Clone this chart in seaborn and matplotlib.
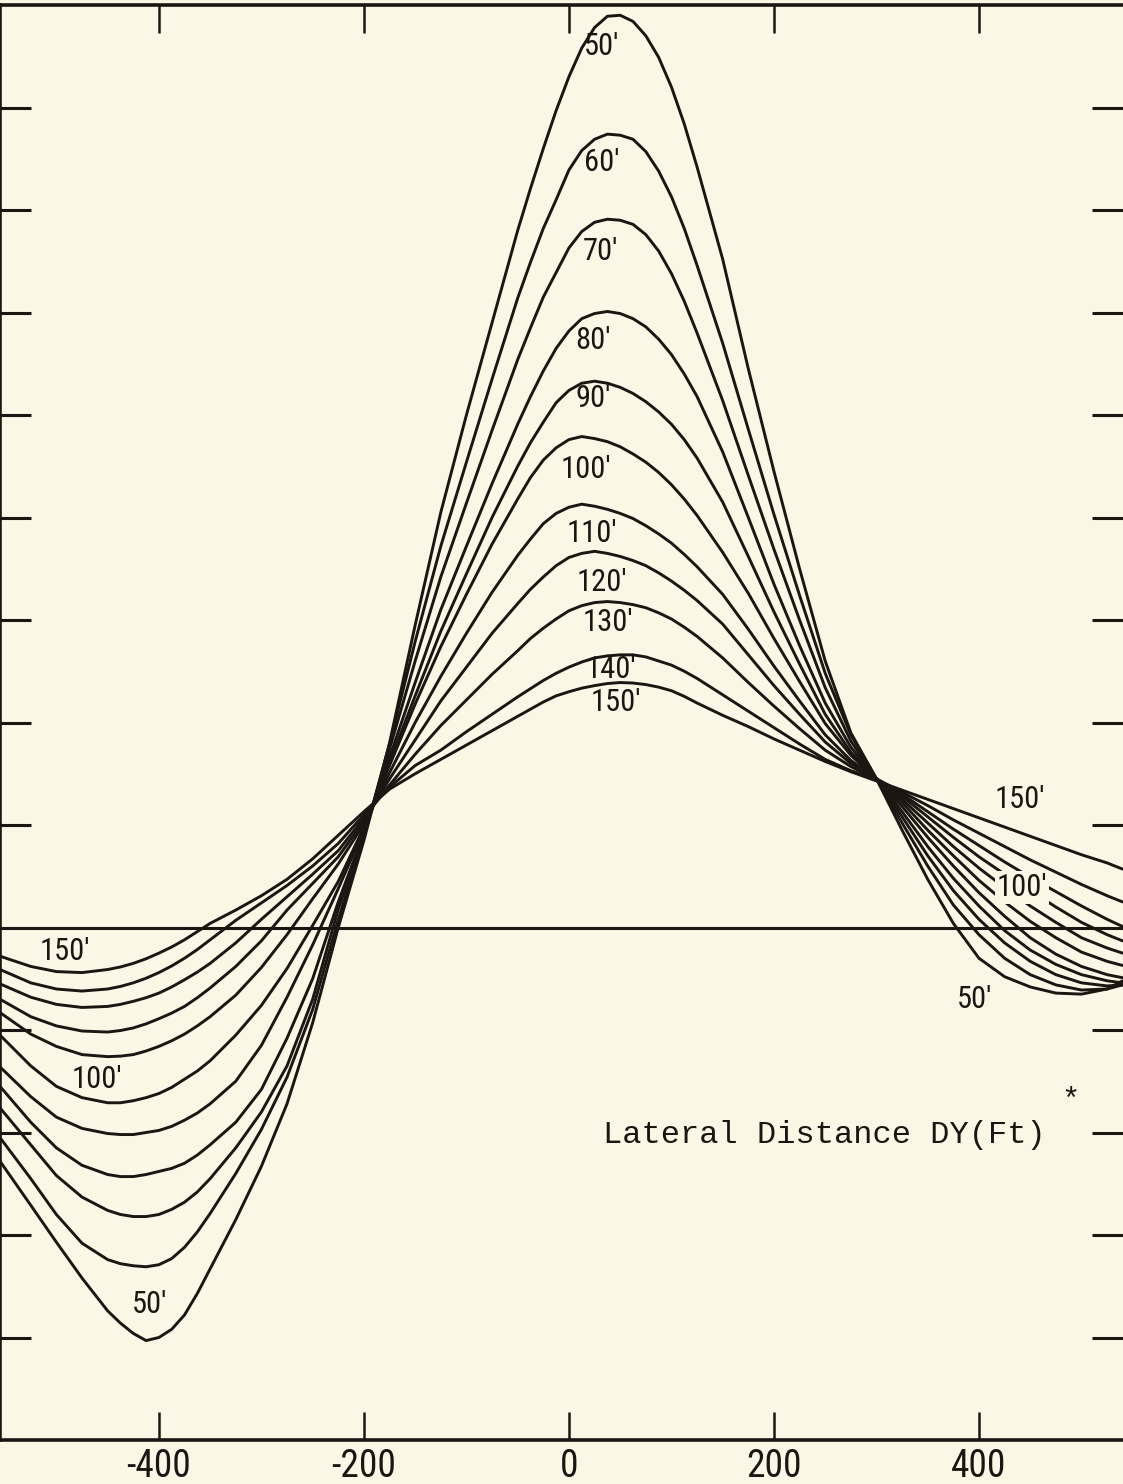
import numpy as np
import pandas as pd
import matplotlib
matplotlib.use("Agg")
import matplotlib.pyplot as plt
import seaborn as sns

# ---------------- data ----------------
dy = [-555, -525, -500, -475, -450,
      -437.5, -425, -412.5, -400, -387.5, -375, -362.5, -350,
      -325, -300, -275, -250, -225, -200, -175, -150, -125, -100, -75, -50,
      -37.5, -25, -12.5, 0, 12.5, 25, 37.5, 50, 62.5, 75, 87.5, 100, 112.5, 125,
      150, 175, 200, 225, 250, 275, 300,
      325, 350, 375, 400, 425, 450, 475, 500, 525, 540]

heights = ["50'", "60'", "70'", "80'", "90'", "100'", "110'", "120'", "130'", "140'", "150'"]

y50 = [-2.28, -2.71, -3.07, -3.42, -3.74,
       -3.86, -3.96, -4.03, -4.0, -3.92, -3.78, -3.57, -3.33,
       -2.85, -2.33, -1.72, -0.93, 0.0, 0.85, 1.8, 2.95, 4.05, 5.0, 5.9, 6.8,
       7.21, 7.6, 7.97, 8.3, 8.58, 8.78, 8.89, 8.9, 8.84, 8.7, 8.49, 8.2, 7.84, 7.42,
       6.52, 5.45, 4.45, 3.5, 2.6, 1.9, 1.45,
       0.95, 0.47, 0.04, -0.3, -0.48, -0.58, -0.64, -0.65, -0.6, -0.52]
y60 = [-2.05, -2.45, -2.8, -3.08, -3.24,
       -3.28, -3.3, -3.31, -3.29, -3.23, -3.12, -2.97, -2.79,
       -2.4, -1.97, -1.46, -0.8, 0.08, 0.88, 1.79, 2.79, 3.72, 4.54, 5.35, 6.14,
       6.49, 6.82, 7.1, 7.39, 7.58, 7.69, 7.74, 7.73, 7.69, 7.57, 7.38, 7.13, 6.82, 6.46,
       5.7, 4.86, 4.03, 3.24, 2.48, 1.88, 1.45,
       1.02, 0.6, 0.22, -0.07, -0.3, -0.46, -0.56, -0.61, -0.6, -0.56]
y70 = [-1.76, -2.12, -2.42, -2.63, -2.76,
       -2.8, -2.82, -2.82, -2.8, -2.75, -2.68, -2.58, -2.45,
       -2.15, -1.8, -1.35, -0.7, 0.18, 0.9, 1.74, 2.6, 3.42, 4.14, 4.85, 5.54,
       5.85, 6.15, 6.39, 6.63, 6.79, 6.88, 6.91, 6.9, 6.86, 6.76, 6.6, 6.38, 6.11, 5.8,
       5.14, 4.41, 3.69, 3.0, 2.34, 1.82, 1.45,
       1.08, 0.7, 0.36, 0.08, -0.15, -0.33, -0.46, -0.54, -0.57, -0.56]
y80 = [-1.55, -1.9, -2.15, -2.32, -2.41,
       -2.43, -2.43, -2.41, -2.38, -2.35, -2.3, -2.22, -2.12,
       -1.9, -1.58, -1.08, -0.5, 0.25, 0.92, 1.66, 2.39, 3.1, 3.72, 4.33, 4.91,
       5.18, 5.43, 5.65, 5.82, 5.94, 5.99, 6.01, 5.99, 5.94, 5.86, 5.74, 5.59, 5.4, 5.18,
       4.64, 4.0, 3.35, 2.75, 2.19, 1.76, 1.45,
       1.13, 0.79, 0.48, 0.21, -0.03, -0.22, -0.36, -0.46, -0.52, -0.54]
y90 = [-1.36, -1.65, -1.85, -1.96, -2.01,
       -2.02, -2.02, -2.0, -1.98, -1.94, -1.88, -1.81, -1.72,
       -1.5, -1.15, -0.68, -0.17, 0.38, 0.95, 1.61, 2.26, 2.89, 3.45, 4.0, 4.5,
       4.73, 4.93, 5.12, 5.24, 5.31, 5.33, 5.31, 5.27, 5.21, 5.13, 5.03, 4.91, 4.76, 4.58,
       4.15, 3.62, 3.08, 2.57, 2.08, 1.71, 1.45,
       1.18, 0.88, 0.6, 0.34, 0.11, -0.1, -0.26, -0.38, -0.46, -0.49]
y100 = [-1.05, -1.35, -1.55, -1.66, -1.71,
        -1.71, -1.69, -1.66, -1.62, -1.56, -1.48, -1.4, -1.3,
        -1.05, -0.76, -0.4, 0.02, 0.45, 0.98, 1.58, 2.18, 2.74, 3.25, 3.74, 4.18,
        4.39, 4.56, 4.68, 4.76, 4.79, 4.77, 4.74, 4.69, 4.62, 4.54, 4.44, 4.32, 4.18, 4.02,
        3.66, 3.26, 2.82, 2.4, 1.99, 1.68, 1.45,
        1.22, 0.95, 0.7, 0.46, 0.25, 0.06, -0.1, -0.24, -0.33, -0.37]
y110 = [-0.83, -1.04, -1.16, -1.24, -1.26,
        -1.255, -1.24, -1.205, -1.16, -1.105, -1.04, -0.96, -0.87,
        -0.66, -0.39, -0.07, 0.28, 0.62, 1.01, 1.51, 2.0, 2.45, 2.87, 3.27, 3.63,
        3.79, 3.94, 4.04, 4.1, 4.13, 4.11, 4.08, 4.04, 3.99, 3.92, 3.84, 3.75, 3.64, 3.52,
        3.25, 2.91, 2.55, 2.21, 1.88, 1.63, 1.45,
        1.25, 1.02, 0.79, 0.58, 0.39, 0.21, 0.05, -0.1, -0.2, -0.25]
y120 = [-0.7, -0.87, -0.96, -1.01, -1.02,
        -1.005, -0.98, -0.94, -0.89, -0.835, -0.77, -0.685, -0.59,
        -0.38, -0.13, 0.17, 0.43, 0.69, 1.04, 1.45, 1.83, 2.21, 2.54, 2.87, 3.16,
        3.3, 3.42, 3.53, 3.61, 3.65, 3.67, 3.65, 3.62, 3.58, 3.53, 3.46, 3.38, 3.29, 3.19,
        2.96, 2.66, 2.36, 2.08, 1.81, 1.6, 1.45,
        1.28, 1.08, 0.88, 0.69, 0.52, 0.36, 0.2, 0.05, -0.07, -0.13]
y130 = [-0.55, -0.68, -0.75, -0.78, -0.77,
        -0.75, -0.72, -0.685, -0.64, -0.58, -0.51, -0.435, -0.35,
        -0.15, 0.08, 0.3, 0.52, 0.75, 1.07, 1.39, 1.69, 1.97, 2.22, 2.47, 2.7,
        2.82, 2.92, 3.01, 3.09, 3.14, 3.17, 3.18, 3.17, 3.15, 3.12, 3.07, 3.01, 2.93, 2.84,
        2.63, 2.39, 2.16, 1.94, 1.73, 1.57, 1.45,
        1.3, 1.13, 0.96, 0.8, 0.64, 0.49, 0.35, 0.21, 0.08, 0.01]
y140 = [-0.41, -0.54, -0.6, -0.62, -0.6,
        -0.575, -0.54, -0.495, -0.44, -0.375, -0.3, -0.215, -0.12,
        0.07, 0.24, 0.41, 0.6, 0.82, 1.1, 1.37, 1.58, 1.73, 1.91, 2.08, 2.25,
        2.33, 2.41, 2.48, 2.54, 2.59, 2.63, 2.65, 2.66, 2.66, 2.64, 2.6, 2.56, 2.5, 2.43,
        2.27, 2.11, 1.95, 1.79, 1.64, 1.53, 1.45,
        1.32, 1.19, 1.05, 0.92, 0.79, 0.66, 0.54, 0.42, 0.31, 0.25]
y150 = [-0.28, -0.38, -0.43, -0.44, -0.41,
        -0.385, -0.35, -0.305, -0.25, -0.19, -0.12, -0.04, 0.04,
        0.17, 0.31, 0.47, 0.67, 0.9, 1.13, 1.35, 1.5, 1.64, 1.78, 1.92, 2.06,
        2.13, 2.2, 2.26, 2.3, 2.335, 2.36, 2.38, 2.39, 2.385, 2.37, 2.345, 2.31, 2.255, 2.19,
        2.07, 1.96, 1.84, 1.73, 1.62, 1.52, 1.43,
        1.34, 1.25, 1.16, 1.07, 0.98, 0.89, 0.8, 0.71, 0.63, 0.57]

series = [y50, y60, y70, y80, y90, y100, y110, y120, y130, y140, y150]
for s in series:
    assert len(s) == len(dy)

x_ticks = [-400, -200, 0, 200, 400]
x_tick_labels = ["-400", "-200", "0", "200", "400"]
y_ticks = [-4, -3, -2, -1, 1, 2, 3, 4, 5, 6, 7, 8]

axis_title = "Lateral Distance DY(Ft)"

# ---------------- styling ----------------
BG = "#FAF7E6"
INK = "#1B1612"
NARROW = ['Liberation Sans Narrow', 'Roboto Condensed', 'DejaVu Sans']

sns.set_theme(style="white")
plt.rcParams['font.family'] = NARROW
plt.rcParams['font.stretch'] = 'condensed'

fig = plt.figure(figsize=(11.23, 14.84), dpi=100, facecolor=BG)
ax = fig.add_axes([0.0, 44 / 1484, 1.0, 1435 / 1484])
ax.set_facecolor(BG)

rows = []
for h, ys in zip(heights, series):
    for x, y in zip(dy, ys):
        rows.append({"dy": x, "val": y, "height": h})
df = pd.DataFrame(rows)

sns.lineplot(data=df, x="dy", y="val", hue="height", hue_order=heights,
             palette=[INK] * len(heights), estimator=None, sort=False,
             legend=False, linewidth=2.1, ax=ax)

ax.axhline(0, color=INK, lw=2.2, zorder=1)

ax.set_xlim(-555, 540.5)
ax.set_ylim(-5.0, 9.0)
ax.set_xticks(x_ticks)
ax.set_xticklabels(x_tick_labels, fontstretch='condensed')
ax.set_yticks(y_ticks)
ax.set_xlabel("")
ax.set_ylabel("")

ax.tick_params(axis="x", direction="in", length=20, width=1.8, colors=INK,
               top=True, bottom=True, labelsize=27, pad=6)
ax.tick_params(axis="y", direction="in", length=22, width=2.2, colors=INK,
               left=True, right=True, labelleft=False, labelright=False)

for side in ["bottom", "top", "left"]:
    ax.spines[side].set_color(INK)
    ax.spines[side].set_linewidth(2.6)
ax.spines["right"].set_visible(False)

# curve labels
lab_font = dict(fontsize=22, color=INK, ha="center", va="center", fontstretch='condensed')
peak_labels = [("50'", 32, 8.6), ("60'", 32, 7.46), ("70'", 31, 6.6), ("80'", 24, 5.73),
               ("90'", 24, 5.16), ("100'", 17, 4.47), ("110'", 22, 3.84), ("120'", 32, 3.37),
               ("130'", 38, 2.98), ("140'", 41, 2.52), ("150'", 46, 2.2)]
for t, x, y in peak_labels:
    ax.text(x, y, t, **lab_font)

ax.text(-492, -0.23, "150'", **lab_font)
ax.text(-460, -1.48, "100'", **lab_font)
ax.text(-409, -3.68, "50'", **lab_font)
ax.text(440, 1.25, "150'", **lab_font)
ax.text(442, 0.39, "100'", bbox=dict(facecolor=BG, edgecolor="none", pad=1.0), **lab_font)
ax.text(396, -0.70, "50'", **lab_font)

ax.text(0.931, 0.2125, axis_title, transform=ax.transAxes, ha="right", va="center",
        fontsize=23, color=INK, family=["Liberation Mono", "DejaVu Sans Mono"])
ax.text(0.953, 0.236, "*", transform=ax.transAxes, ha="center", va="center",
        fontsize=22, color=INK, family=["Liberation Mono", "DejaVu Sans Mono"])

fig.savefig("out.png", dpi=100, facecolor=BG)
